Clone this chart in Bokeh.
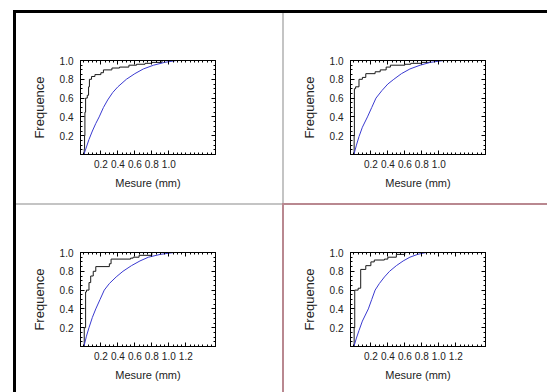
from bokeh.plotting import figure
from bokeh.layouts import row, column
from bokeh.models import Spacer, FixedTicker, CustomJSTickFormatter, LinearAxis, NumeralTickFormatter
from bokeh.embed import file_html
from bokeh.resources import INLINE

# Empirical cumulative frequencies (step curves) and fitted curves, one set per panel
tl_step_x = [0.0, 0.004, 0.008, 0.012, 0.02, 0.04, 0.055, 0.065, 0.09, 0.13, 0.2, 0.23, 0.33, 0.42, 0.53, 0.62, 0.72, 0.8, 0.92, 1.1]
tl_step_y = [0.0, 0.06, 0.2, 0.45, 0.6, 0.63, 0.72, 0.8, 0.83, 0.85, 0.87, 0.9, 0.92, 0.93, 0.95, 0.96, 0.97, 0.98, 1.0, 1.0]
tl_fit_x = [0.0, 0.03, 0.06, 0.1, 0.14, 0.18, 0.23, 0.28, 0.34, 0.4, 0.5, 0.6, 0.7, 0.82, 0.95, 1.09]
tl_fit_y = [0.0, 0.08, 0.16, 0.25, 0.33, 0.4, 0.5, 0.58, 0.66, 0.72, 0.8, 0.86, 0.91, 0.95, 0.98, 1.0]

tr_step_x = [0.0, 0.003, 0.006, 0.02, 0.06, 0.1, 0.14, 0.25, 0.31, 0.38, 0.43, 0.6, 0.67, 0.8, 0.9, 1.14]
tr_step_y = [0.0, 0.2, 0.7, 0.72, 0.8, 0.82, 0.86, 0.88, 0.9, 0.93, 0.95, 0.96, 0.97, 0.98, 1.0, 1.0]
tr_fit_x = [0.0, 0.03, 0.06, 0.1, 0.16, 0.21, 0.26, 0.33, 0.4, 0.47, 0.56, 0.66, 0.78, 0.9, 1.06]
tr_fit_y = [0.0, 0.1, 0.19, 0.29, 0.4, 0.5, 0.6, 0.68, 0.75, 0.8, 0.86, 0.91, 0.95, 0.98, 1.0]

bl_step_x = [0.0, 0.004, 0.02, 0.03, 0.06, 0.08, 0.11, 0.14, 0.3, 0.32, 0.55, 0.58, 0.65, 0.8, 1.06]
bl_step_y = [0.0, 0.2, 0.58, 0.6, 0.68, 0.75, 0.8, 0.85, 0.88, 0.93, 0.94, 0.95, 0.97, 1.0, 1.0]
bl_fit_x = [0.0, 0.03, 0.06, 0.1, 0.14, 0.19, 0.24, 0.3, 0.38, 0.46, 0.56, 0.66, 0.76, 0.9, 1.06]
bl_fit_y = [0.0, 0.11, 0.2, 0.31, 0.4, 0.5, 0.6, 0.67, 0.74, 0.8, 0.86, 0.91, 0.95, 0.98, 1.0]

br_step_x = [0.0, 0.003, 0.01, 0.05, 0.08, 0.14, 0.2, 0.24, 0.36, 0.4, 0.5, 0.6, 1.06]
br_step_y = [0.0, 0.2, 0.6, 0.62, 0.82, 0.86, 0.9, 0.92, 0.93, 0.95, 0.98, 1.0, 1.0]
br_fit_x = [0.0, 0.03, 0.06, 0.1, 0.17, 0.21, 0.25, 0.3, 0.36, 0.42, 0.5, 0.58, 0.66, 0.75, 0.85, 1.06]
br_fit_y = [0.0, 0.09, 0.17, 0.27, 0.4, 0.5, 0.6, 0.67, 0.74, 0.8, 0.86, 0.91, 0.95, 0.98, 1.0, 1.0]

x_labels_top = [0.2, 0.4, 0.6, 0.8, 1.0]
x_labels_bottom = [0.2, 0.4, 0.6, 0.8, 1.0, 1.2]
y_labels = [0.2, 0.4, 0.6, 0.8, 1.0]

X_RANGE = (-0.04, 1.55)
FONT = "Liberation Sans"


def style_axis(ax, majors, minors, labelled):
    ax.ticker = FixedTicker(ticks=majors, minor_ticks=minors)
    ax.axis_line_color = "black"
    ax.major_tick_line_color = "black"
    ax.minor_tick_line_color = "black"
    ax.major_tick_in = 4
    ax.major_tick_out = 0
    ax.minor_tick_in = 2
    ax.minor_tick_out = 0
    ax.major_label_text_font = FONT
    ax.major_label_text_font_size = "10px"
    ax.major_label_text_color = "#222222"
    if labelled:
        ax.formatter = NumeralTickFormatter(format="0.0")
    else:
        ax.formatter = CustomJSTickFormatter(code="return ''")


def panel(step_x, step_y, fit_x, fit_y, xticks, width, height, left, right, top, bottom):
    p = figure(width=width, height=height, x_range=X_RANGE, y_range=(0, 1.0),
               min_border_left=left, min_border_right=right,
               min_border_top=top, min_border_bottom=bottom,
               toolbar_location=None, output_backend="svg",
               x_axis_location=None, y_axis_location=None)
    p.grid.visible = False
    p.outline_line_color = "black"
    p.background_fill_color = "white"
    p.border_fill_color = "white"

    x_minor = [round(i * 0.05, 2) for i in range(0, 32)]
    y_minor = [round(i * 0.05, 2) for i in range(0, 21)]

    xb = LinearAxis(axis_label="Mesure (mm)")
    style_axis(xb, xticks, x_minor, True)
    xb.major_label_standoff = 5
    xb.axis_label_standoff = 6
    xb.axis_label_text_font = FONT
    xb.axis_label_text_font_style = "normal"
    xb.axis_label_text_font_size = "11px"
    xb.axis_label_text_color = "#222222"
    p.add_layout(xb, "below")

    yl = LinearAxis(axis_label="Frequence")
    style_axis(yl, y_labels, y_minor, True)
    yl.major_label_standoff = 7
    yl.axis_label_standoff = 10
    yl.axis_label_text_font = FONT
    yl.axis_label_text_font_style = "normal"
    yl.axis_label_text_font_size = "13px"
    yl.axis_label_text_color = "#222222"
    p.add_layout(yl, "left")

    xt = LinearAxis()
    style_axis(xt, xticks, x_minor, False)
    p.add_layout(xt, "above")

    yr = LinearAxis()
    style_axis(yr, y_labels, y_minor, False)
    p.add_layout(yr, "right")

    p.step(step_x, step_y, mode="after", line_color="#1a1a1a", line_width=1)
    p.line(fit_x, fit_y, line_color="#3a3ad0", line_width=1)
    return p


def bar(w, h, color):
    return Spacer(width=w, height=h, margin=0, styles={"background-color": color})


tl = panel(tl_step_x, tl_step_y, tl_fit_x, tl_fit_y, x_labels_top, 266, 190, 64, 67, 47, 49)
tr = panel(tr_step_x, tr_step_y, tr_fit_x, tr_fit_y, x_labels_top, 263, 190, 66, 62, 47, 49)
bl = panel(bl_step_x, bl_step_y, bl_fit_x, bl_fit_y, x_labels_bottom, 266, 187, 64, 67, 47, 46)
br = panel(br_step_x, br_step_y, br_fit_x, br_fit_y, x_labels_bottom, 263, 187, 66, 62, 47, 46)

GRAY = "#c4c4c4"
RED = "#b98890"

grid = column(
    row(tl, bar(2, 190, GRAY), tr, spacing=0),
    row(bar(266, 2, GRAY), bar(2, 2, RED), bar(263, 2, RED), spacing=0),
    row(bl, bar(2, 187, RED), br, spacing=0),
    spacing=0,
)

page = column(
    bar(547, 10, "white"),
    row(bar(13, 3, "white"), bar(534, 3, "black"), spacing=0),
    row(bar(13, 379, "white"), bar(3, 379, "black"), grid, spacing=0),
    spacing=0,
)

open("out.html", "w").write(file_html(page, INLINE))
